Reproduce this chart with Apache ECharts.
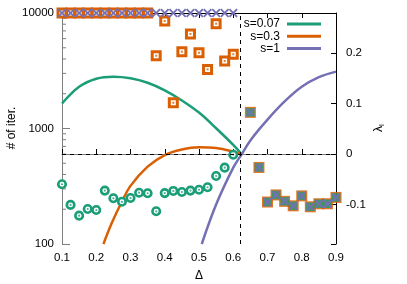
<!DOCTYPE html>
<html><head><meta charset="utf-8">
<script src="https://cdn.jsdelivr.net/npm/echarts@6/dist/echarts.min.js"></script>
<style>html,body{margin:0;padding:0;background:#fff}#c{width:407px;height:284px}</style>
</head><body><div id="c"></div>
<script>
// ---- data ----
const delta = [0.1,0.125,0.15,0.175,0.2,0.225,0.25,0.275,0.3,0.325,0.35,0.375,0.4,0.425,0.45,0.475,0.5,0.525,0.55,0.575,0.6,0.625,0.65,0.675,0.7,0.725,0.75,0.775,0.8,0.825,0.85,0.875,0.9];
const iterS007 = [329,218,176,201,197,290,249,232,250,278,275,192,276,288,282,290,295,310,388,458,593,null,1380,460,231,266,234,214,261,210,223,223,253];
const iterS03 = [10000,10000,10000,10000,10000,10000,10000,10000,10000,10000,10000,4266,8530,1672,4624,6580,4530,3250,8080,3840,4390,null,1380,460,231,266,234,214,261,210,223,223,253];
const iterS1 = [10000,10000,10000,10000,10000,10000,10000,10000,10000,10000,10000,10000,10000,10000,10000,10000,10000,10000,10000,10000,10000,null,1380,460,231,266,234,214,261,210,223,223,253];

const lamDeltaS007 = [0.1,0.15,0.2,0.25,0.3,0.35,0.4,0.45,0.5,0.55,0.6,0.624];
const lamS007      = [0.100,0.133,0.149,0.153,0.150,0.141,0.126,0.106,0.082,0.051,0.018,0.0];
const lamDeltaS03  = [0.221,0.245,0.275,0.3,0.35,0.4,0.45,0.5,0.55,0.6,0.624];
const lamS03       = [-0.178,-0.137,-0.094,-0.063,-0.025,-0.002,0.009,0.0135,0.012,0.005,0.0];
const lamDeltaS1   = [0.508,0.55,0.6,0.625,0.65,0.7,0.75,0.8,0.85,0.9];
const lamS1        = [-0.178,-0.100,-0.027,0.0,0.027,0.068,0.104,0.133,0.152,0.163];

const criticalDelta = 0.624;
const minorTickValues = [200,300,400,500,600,700,800,900,2000,3000,4000,5000,6000,7000,8000,9000];
const legendNames = ['s=0.07','s=0.3','s=1'];

// ---- styling ----
const GREEN='#1b9e77', ORANGE='#d95f02', PURPLE='#7570b3';
const FONT='Liberation Sans, Arial, sans-serif';
const XPATH='path://M0,1.5L1.5,0L5,3.5L8.5,0L10,1.5L6.5,5L10,8.5L8.5,10L5,6.5L1.5,10L0,8.5L3.5,5Z';

function pairs(xs, ys){ return xs.map((x,i)=>[x, ys[i]]); }
function part(ys, right){ return delta.map((d,i)=> (ys[i]==null || (right ? d < criticalDelta : d > criticalDelta)) ? null : [d, ys[i]]).filter(p=>p); }

const chart = echarts.init(document.getElementById('c'), null, {renderer:'canvas'});
const lineSeries = (name, xs, ys, color, extra) => Object.assign({
  name, type:'line', xAxisIndex:0, yAxisIndex:1, data: pairs(xs, ys), smooth:0.35,
  showSymbol:false, symbol:'none', color, lineStyle:{color, width:2.5}, itemStyle:{color}, z:2, silent:true
}, extra||{});

const option = {
  animation:false,
  textStyle:{fontFamily:FONT},
  grid:{left:62, right:71, top:13, bottom:40},
  legend: legendNames.map((n,i)=>({
    data:[n], right:86, top:18+i*12.3, padding:0, align:'right', icon:'rect',
    itemWidth:34, itemHeight:3, selectedMode:false,
    textStyle:{fontFamily:FONT, fontSize:12, color:'#000', padding:[0,2,0,0]}
  })),
  xAxis:[
    {type:'value', position:'bottom', min:0.1, max:0.9, interval:0.1,
     axisLine:{lineStyle:{color:'#7f7f7f', width:1}},
     axisTick:{inside:true, length:5, lineStyle:{color:'#000'}},
     axisLabel:{formatter:v=>v.toFixed(1), fontSize:11.5, color:'#000', margin:8, fontFamily:FONT},
     splitLine:{show:false}},
    {type:'value', position:'top', min:0.1, max:0.9, interval:0.1,
     axisLine:{lineStyle:{color:'#000', width:1}},
     axisTick:{inside:true, length:5, lineStyle:{color:'#000'}},
     axisLabel:{show:false}, splitLine:{show:false}}
  ],
  yAxis:[
    {type:'log', logBase:10, min:100, max:10000, position:'left',
     axisLine:{show:true, lineStyle:{color:'#7f7f7f', width:1}},
     axisTick:{inside:true, length:8, lineStyle:{color:'#7f7f7f'}},
     axisLabel:{fontSize:11.5, color:'#000', margin:8, fontFamily:FONT, formatter:v=>String(Math.round(v))},
     splitLine:{show:false}},
    {type:'value', min:-0.178, max:0.279, position:'right',
     axisLine:{show:true, lineStyle:{color:'#000', width:1}},
     axisTick:{inside:true, length:5, lineStyle:{color:'#000'}},
     axisLabel:{fontSize:11.5, color:'#000', margin:10, fontFamily:FONT,
       formatter:v=>{const t=v*10; return Math.abs(t-Math.round(t))<1e-6 ? String(Math.round(t)/10) : '';}},
     splitLine:{show:false}}
  ],
  graphic:[
    {type:'text', x:12, y:128, rotation:Math.PI/2,
     style:{text:'# of iter.', font:'12px '+FONT, fill:'#000', textAlign:'center', textVerticalAlign:'middle'}},
    {type:'text', x:379, y:128, rotation:Math.PI/2,
     style:{text:'{a|λ}{b|l}', textAlign:'center', textVerticalAlign:'middle',
       rich:{a:{fontSize:12, fontFamily:FONT, fill:'#000'}, b:{fontSize:8, fontFamily:FONT, fill:'#000', padding:[6,0,0,0]}}}},
    {type:'text', x:199, y:276,
     style:{text:'Δ', font:'12px '+FONT, fill:'#000', textAlign:'center', textVerticalAlign:'middle'}}
  ],
  series:[
    lineSeries('s=0.07', lamDeltaS007, lamS007, GREEN, {
      markLine:{silent:true, symbol:'none', label:{show:false}, animation:false,
        lineStyle:{color:'#000', type:[4,4], width:1},
        data:[{yAxis:0},{xAxis:criticalDelta}]}}),
    lineSeries('s=0.3', lamDeltaS03, lamS03, ORANGE),
    lineSeries('s=1', lamDeltaS1, lamS1, PURPLE),
    {type:'custom', xAxisIndex:0, yAxisIndex:0, silent:true, z:1, clip:false,
     data: minorTickValues.map(v=>[0.1, v]),
     renderItem:(params, api)=>{ const p=api.coord([api.value(0), api.value(1)]);
       return {type:'line', shape:{x1:p[0], y1:p[1], x2:p[0]+4, y2:p[1]}, style:{stroke:'#7f7f7f', lineWidth:1}}; }},
    // s=0.3 iterations
    {name:'it03', type:'scatter', yAxisIndex:0, data:part(iterS03,false), symbol:'rect', symbolSize:8, z:3, silent:true,
     itemStyle:{color:'#fff', borderColor:ORANGE, borderWidth:3, opacity:1}},
    {name:'it03d', type:'scatter', yAxisIndex:0, data:part(iterS03,false), symbol:'rect', symbolSize:2, z:3, silent:true,
     itemStyle:{color:ORANGE}},
    {name:'it03r', type:'scatter', yAxisIndex:0, data:part(iterS03,true), symbol:'rect', symbolSize:11, z:3, silent:true,
     itemStyle:{color:ORANGE, opacity:0.85}},
    // s=0.07 iterations
    {name:'it007', type:'scatter', yAxisIndex:0, data:part(iterS007,false), symbol:'circle', symbolSize:7.5, z:4, silent:true,
     itemStyle:{color:'#fff', borderColor:GREEN, borderWidth:2.6, opacity:1}},
    {name:'it007d', type:'scatter', yAxisIndex:0, data:part(iterS007,false), symbol:'circle', symbolSize:2.2, z:4, silent:true,
     itemStyle:{color:GREEN}},
    {name:'it007r', type:'scatter', yAxisIndex:0, data:part(iterS007,true), symbol:'rect', symbolSize:8.5, z:4, silent:true,
     itemStyle:{color:GREEN}},
    // s=1 iterations
    {name:'it1', type:'scatter', yAxisIndex:0, data:pairs(delta, iterS1).filter(p=>p[1]!=null), symbol:XPATH, symbolSize:9, z:5, silent:true,
     itemStyle:{color:PURPLE, opacity:1}}
  ]
};
chart.setOption(option);
</script></body></html>
